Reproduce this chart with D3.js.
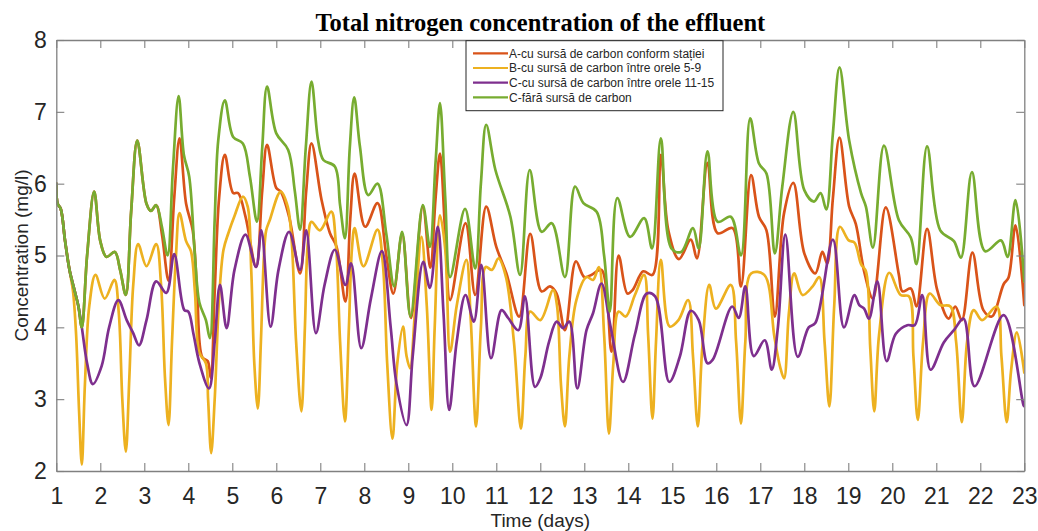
<!DOCTYPE html>
<html>
<head>
<meta charset="utf-8">
<script src="https://cdn.jsdelivr.net/npm/d3@7"></script>
<style>
  body { margin: 0; background: #fff; }
  svg text { font-family: "Liberation Sans", Arial, sans-serif; }
</style>
</head>
<body>
<svg id="chart" width="1038" height="531"></svg>
<script>
// Total nitrogen in the effluent, [day, mg/l] samples per scenario
const seriesLabels = [
  "A-cu sursă de carbon conform stației",
  "B-cu sursă de carbon între orele 5-9",
  "C-cu sursă de carbon între orele 11-15",
  "C-fără sursă de carbon"
];

const seriesA = [
  [1.0,6.0],[1.03,5.72],[1.1,5.65],[1.2,5.2],[1.3,4.8],[1.4,4.55],[1.5,4.3],[1.58,4.0],
  [1.7,5.0],[1.86,5.89],[2.0,5.2],[2.14,4.98],[2.33,5.05],[2.45,4.8],[2.58,4.45],[2.7,5.6],
  [2.84,6.6],[3.05,5.72],[3.15,5.62],[3.27,5.7],[3.4,5.3],[3.55,4.65],[3.68,5.8],[3.8,6.63],
  [3.95,5.72],[4.1,5.35],[4.2,4.5],[4.32,3.58],[4.44,3.53],[4.51,3.3],[4.6,4.5],[4.7,5.8],
  [4.83,6.4],[5.02,5.87],[5.13,5.87],[5.3,5.54],[5.54,4.84],[5.68,5.9],[5.79,6.54],[6.0,5.94],
  [6.1,5.89],[6.29,5.54],[6.54,4.75],[6.68,5.9],[6.8,6.56],[7.03,5.77],[7.22,5.31],[7.37,5.12],
  [7.57,4.36],[7.68,5.5],[7.78,6.14],[8.02,5.4],[8.3,5.73],[8.5,5.0],[8.66,4.47],[8.86,5.3],
  [9.06,4.13],[9.33,5.68],[9.5,4.83],[9.62,5.8],[9.72,6.42],[9.84,5.3],[9.95,4.38],[10.3,5.45],
  [10.52,4.45],[10.77,5.68],[11.0,5.12],[11.23,4.75],[11.52,4.15],[11.77,5.3],[12.03,4.5],
  [12.22,4.57],[12.37,4.47],[12.56,3.96],[12.81,4.92],[13.0,4.7],[13.16,4.73],[13.39,4.8],
  [13.62,3.66],[13.78,5.0],[13.98,4.47],[14.1,4.52],[14.34,4.78],[14.55,4.73],[14.74,6.4],
  [14.91,5.35],[15.15,4.95],[15.42,5.22],[15.56,4.96],[15.8,6.29],[16.03,5.31],[16.37,5.38],
  [16.56,4.57],[16.79,6.12],[16.97,5.54],[17.14,5.35],[17.33,4.15],[17.54,5.59],[17.75,6.01],
  [18.0,5.03],[18.25,4.75],[18.41,5.05],[18.52,4.89],[18.65,5.8],[18.8,6.64],[19.02,5.68],
  [19.17,5.44],[19.36,4.78],[19.56,4.4],[19.85,5.67],[20.15,4.73],[20.23,4.5],[20.42,4.54],
  [20.55,4.29],[20.79,5.37],[21.02,4.52],[21.28,4.12],[21.43,4.29],[21.58,4.1],[21.82,5.04],
  [22.07,4.24],[22.26,4.15],[22.53,4.6],[22.64,4.69],[22.8,5.42],[23.0,4.31]
];

const seriesB = [
  [1.0,6.0],[1.03,5.72],[1.1,5.65],[1.2,5.2],[1.3,4.8],[1.38,4.5],[1.45,3.9],[1.52,2.8],
  [1.58,2.09],[1.65,3.2],[1.75,4.3],[1.89,4.73],[2.1,4.4],[2.32,4.66],[2.42,4.2],[2.5,3.0],
  [2.58,2.27],[2.66,3.3],[2.75,4.6],[2.86,5.16],[3.05,4.85],[3.27,5.16],[3.38,4.6],[3.47,3.3],
  [3.55,2.64],[3.63,3.8],[3.72,5.0],[3.8,5.59],[3.95,5.2],[4.06,5.06],[4.15,4.5],[4.25,3.65],
  [4.4,3.5],[4.45,3.0],[4.52,2.25],[4.6,3.0],[4.7,4.4],[4.8,5.08],[4.91,5.31],[5.05,5.55],
  [5.24,5.82],[5.35,5.68],[5.43,4.8],[5.5,3.5],[5.58,2.87],[5.65,3.8],[5.72,5.0],[5.77,5.35],
  [5.85,5.49],[6.1,5.89],[6.26,5.68],[6.35,5.2],[6.45,3.8],[6.57,2.83],[6.65,4.0],[6.72,5.2],
  [6.8,5.47],[6.99,5.35],[7.25,5.61],[7.35,5.2],[7.45,3.8],[7.56,2.69],[7.65,4.0],[7.72,5.1],
  [7.78,5.38],[7.98,4.85],[8.3,5.36],[8.42,4.9],[8.52,3.5],[8.64,2.45],[8.75,3.5],[8.88,4.01],
  [8.96,3.6],[9.04,3.43],[9.15,4.2],[9.3,5.26],[9.42,4.3],[9.53,2.85],[9.6,4.0],[9.72,5.56],
  [9.84,5.08],[9.95,3.66],[10.1,4.3],[10.32,4.94],[10.42,4.1],[10.54,2.62],[10.65,4.0],
  [10.76,4.84],[10.9,4.8],[11.05,4.96],[11.22,4.7],[11.4,3.8],[11.56,2.59],[11.66,3.6],
  [11.77,4.22],[12.0,4.1],[12.29,4.52],[12.38,4.3],[12.47,3.2],[12.56,2.62],[12.66,3.6],
  [12.82,4.38],[13.05,4.7],[13.2,4.66],[13.33,4.84],[13.45,3.9],[13.56,2.52],[13.66,3.5],
  [13.78,4.22],[13.94,4.15],[14.15,4.45],[14.36,4.73],[14.45,3.9],[14.55,2.73],[14.63,3.8],
  [14.74,4.94],[14.94,4.01],[15.14,4.1],[15.36,4.38],[15.47,3.6],[15.58,2.62],[15.68,3.7],
  [15.84,4.59],[15.99,4.26],[16.33,4.59],[16.45,3.8],[16.56,2.66],[16.66,3.8],[16.79,4.75],
  [17.09,4.73],[17.32,3.87],[17.45,3.45],[17.54,3.29],[17.65,4.2],[17.77,4.75],[17.96,4.45],
  [18.19,4.57],[18.34,4.7],[18.46,3.8],[18.57,2.9],[18.68,4.3],[18.81,5.4],[19.01,5.21],
  [19.14,5.18],[19.29,4.88],[19.4,4.78],[19.5,3.7],[19.59,2.83],[19.7,3.9],[19.93,4.76],
  [20.19,4.45],[20.38,4.43],[20.48,3.6],[20.58,2.71],[20.7,3.8],[20.85,4.47],[21.09,4.31],
  [21.32,4.29],[21.45,3.8],[21.58,2.68],[21.7,3.8],[21.85,4.24],[22.04,4.1],[22.37,4.29],
  [22.48,3.6],[22.6,2.68],[22.7,3.4],[22.83,3.93],[23.0,3.37]
];

const seriesC = [
  [1.0,6.0],[1.03,5.72],[1.1,5.65],[1.2,5.2],[1.3,4.8],[1.4,4.55],[1.5,4.3],[1.58,4.0],
  [1.7,3.5],[1.83,3.21],[2.03,3.46],[2.2,4.0],[2.41,4.38],[2.6,4.1],[2.74,3.93],[2.88,3.75],
  [3.05,4.1],[3.27,4.64],[3.5,4.48],[3.68,5.02],[3.91,4.24],[4.0,4.22],[4.12,3.9],[4.25,3.51],
  [4.47,3.15],[4.6,3.8],[4.72,4.59],[4.87,3.99],[5.05,4.8],[5.3,5.29],[5.54,4.84],[5.66,5.35],
  [5.87,4.01],[6.05,4.8],[6.29,5.33],[6.54,4.8],[6.68,5.35],[6.9,3.92],[7.1,4.6],[7.33,5.08],
  [7.57,4.59],[7.7,4.89],[7.93,3.71],[8.15,4.4],[8.4,5.06],[8.6,4.0],[8.73,3.22],[8.96,2.64],
  [9.1,3.6],[9.34,4.91],[9.49,4.55],[9.67,5.4],[9.8,4.2],[9.93,2.85],[10.1,3.8],[10.3,4.45],
  [10.49,4.08],[10.66,4.87],[10.88,3.57],[11.12,4.24],[11.27,4.13],[11.5,3.96],[11.65,4.43],
  [11.88,3.17],[12.0,3.29],[12.2,3.8],[12.37,4.08],[12.52,3.99],[12.66,4.08],[12.84,3.15],
  [13.05,3.96],[13.2,4.2],[13.39,4.61],[13.6,4.0],[13.88,3.24],[14.15,3.9],[14.42,4.47],
  [14.61,4.43],[14.93,3.24],[15.17,3.59],[15.42,4.23],[15.6,4.1],[15.8,3.5],[15.92,3.55],
  [16.36,4.29],[16.51,4.13],[16.66,4.57],[16.85,3.6],[17.1,3.82],[17.26,3.41],[17.4,4.0],
  [17.57,5.29],[17.85,3.59],[18.1,4.0],[18.25,4.06],[18.65,5.22],[18.9,4.0],[19.14,4.45],
  [19.25,4.31],[19.36,4.26],[19.47,4.12],[19.66,4.64],[19.87,3.53],[20.08,3.91],[20.34,4.03],
  [20.51,4.03],[20.68,4.45],[20.87,3.41],[21.17,3.79],[21.4,3.96],[21.62,4.12],[21.87,3.18],
  [22.53,4.17],[22.98,2.92],[23.0,2.9]
];

const seriesD = [
  [1.0,6.0],[1.03,5.72],[1.1,5.65],[1.2,5.2],[1.3,4.8],[1.4,4.55],[1.5,4.3],[1.58,4.0],
  [1.7,5.0],[1.86,5.89],[2.0,5.2],[2.14,4.98],[2.33,5.05],[2.45,4.8],[2.58,4.45],[2.7,5.6],
  [2.84,6.6],[3.05,5.72],[3.15,5.62],[3.27,5.7],[3.4,5.4],[3.53,5.0],[3.65,6.2],[3.78,7.22],
  [3.9,6.4],[4.02,6.1],[4.15,5.0],[4.25,4.35],[4.4,4.1],[4.49,3.85],[4.6,5.5],[4.68,6.6],
  [4.83,7.16],[5.02,6.65],[5.24,6.56],[5.4,6.1],[5.56,5.47],[5.68,6.5],[5.79,7.35],[6.0,6.7],
  [6.27,6.47],[6.42,5.9],[6.54,5.36],[6.67,6.5],[6.8,7.42],[6.95,6.6],[7.07,6.33],[7.33,6.24],
  [7.45,5.7],[7.56,5.24],[7.67,6.5],[7.77,7.2],[7.9,6.52],[8.09,5.84],[8.3,6.0],[8.5,5.3],
  [8.68,4.57],[8.86,5.33],[9.05,4.15],[9.33,5.7],[9.49,5.12],[9.62,6.3],[9.72,7.12],[9.84,5.8],
  [9.95,4.7],[10.29,5.65],[10.52,4.82],[10.65,6.0],[10.77,6.82],[10.98,6.19],[11.32,5.54],
  [11.54,4.73],[11.76,6.19],[12.03,5.33],[12.26,5.45],[12.56,4.7],[12.79,5.96],[12.98,5.73],
  [13.28,5.61],[13.45,5.0],[13.58,4.22],[13.75,5.8],[14.04,5.26],[14.36,5.52],[14.54,5.1],
  [14.74,6.63],[14.98,5.1],[15.2,5.05],[15.47,5.38],[15.6,5.1],[15.8,6.45],[16.03,5.47],
  [16.33,5.54],[16.56,5.0],[16.77,6.91],[16.97,6.28],[17.14,6.14],[17.33,5.03],[17.5,5.96],
  [17.75,7.0],[18.0,5.91],[18.22,5.75],[18.37,5.87],[18.5,5.64],[18.65,6.7],[18.8,7.62],
  [19.02,6.6],[19.29,5.87],[19.4,5.68],[19.56,5.11],[19.81,6.53],[20.15,5.49],[20.42,5.25],
  [20.55,4.88],[20.79,6.52],[21.09,5.35],[21.4,5.2],[21.56,4.97],[21.81,6.16],[22.11,5.06],
  [22.47,5.21],[22.62,4.98],[22.8,5.77],[23.0,4.64]
];

const seriesColors = ["#D95319", "#EDB120", "#7E2F8E", "#77AC30"];
const xTickValues = d3.range(1, 24);
const yTickValues = [2, 3, 4, 5, 6, 7, 8];

const svg = d3.select("#chart");
const W = 1038, H = 531;
const plot = { left: 56.3, right: 1024.3, top: 40, bottom: 471 };

const x = d3.scaleLinear().domain([1, 23]).range([plot.left, plot.right]);
const y = d3.scaleLinear().domain([2, 8]).range([plot.bottom, plot.top]);

svg.append("rect").attr("width", W).attr("height", H).attr("fill", "#fff");

svg.append("defs").append("clipPath").attr("id", "plot-clip")
  .append("rect")
  .attr("x", plot.left).attr("y", plot.top)
  .attr("width", plot.right - plot.left).attr("height", plot.bottom - plot.top);

// Data curves (green drawn last, on top)
const line = d3.line()
  .x(d => x(d[0]))
  .y(d => y(d[1]))
  .curve(d3.curveCatmullRom.alpha(0.5));

const allSeries = [seriesA, seriesB, seriesC, seriesD];
svg.append("g")
  .attr("clip-path", "url(#plot-clip)")
  .selectAll("path")
  .data(allSeries)
  .join("path")
  .attr("d", line)
  .attr("fill", "none")
  .attr("stroke", (d, i) => seriesColors[i])
  .attr("stroke-width", 2.7)
  .attr("stroke-linejoin", "round")
  .attr("stroke-linecap", "round");

// Axes with inward ticks on all four sides
const axisColor = "#808080";
const textColor = "#262626";
const tickLen = 8;

const bottomAxis = svg.append("g")
  .attr("transform", `translate(0,${plot.bottom})`)
  .call(d3.axisBottom(x).tickValues(xTickValues).tickSizeInner(-tickLen).tickSizeOuter(0).tickPadding(16.5).tickFormat(d3.format("d")));
const topAxis = svg.append("g")
  .attr("transform", `translate(0,${plot.top})`)
  .call(d3.axisTop(x).tickValues(xTickValues).tickSizeInner(-tickLen).tickSizeOuter(0).tickFormat(""));
const leftAxis = svg.append("g")
  .attr("transform", `translate(${plot.left},0)`)
  .call(d3.axisLeft(y).tickValues(yTickValues).tickSizeInner(-tickLen).tickSizeOuter(0).tickPadding(9.5).tickFormat(d3.format("d")));
const rightAxis = svg.append("g")
  .attr("transform", `translate(${plot.right},0)`)
  .call(d3.axisRight(y).tickValues(yTickValues).tickSizeInner(-tickLen).tickSizeOuter(0).tickFormat(""));

[bottomAxis, topAxis, leftAxis, rightAxis].forEach(g => {
  g.select(".domain").attr("stroke", axisColor).attr("stroke-width", 1.3);
  g.selectAll(".tick line").attr("stroke", axisColor).attr("stroke-width", 1.1);
  g.selectAll(".tick text")
    .attr("fill", textColor)
    .style("font-size", "23px")
    .style("font-family", '"Liberation Sans", Arial, sans-serif');
});

// Axis titles
svg.append("text")
  .attr("x", x(12))
  .attr("y", 527)
  .attr("text-anchor", "middle")
  .attr("fill", textColor)
  .style("font-size", "19px")
  .text("Time (days)");

svg.append("text")
  .attr("transform", `translate(28,${(plot.top + plot.bottom) / 2}) rotate(-90)`)
  .attr("text-anchor", "middle")
  .attr("fill", textColor)
  .style("font-size", "19px")
  .text("Concentration (mg/l)");

// Chart title
svg.append("text")
  .attr("x", x(12))
  .attr("y", 31)
  .attr("text-anchor", "middle")
  .attr("fill", "#000")
  .style("font-family", '"Liberation Serif", "Times New Roman", serif')
  .style("font-weight", "bold")
  .style("font-size", "24.5px")
  .text("Total nitrogen concentration of the effluent");

// Legend
const legend = svg.append("g");
legend.append("rect")
  .attr("x", 466).attr("y", 40.7)
  .attr("width", 257).attr("height", 70)
  .attr("fill", "#fff")
  .attr("stroke", "#262626")
  .attr("stroke-width", 1);

const rowY = [53.3, 68, 82.7, 97.4];
seriesLabels.forEach((label, i) => {
  legend.append("line")
    .attr("x1", 473).attr("x2", 508)
    .attr("y1", rowY[i]).attr("y2", rowY[i])
    .attr("stroke", seriesColors[i])
    .attr("stroke-width", 2.2);
  legend.append("text")
    .attr("x", 509)
    .attr("y", rowY[i])
    .attr("dy", "0.35em")
    .attr("fill", textColor)
    .style("font-size", "12px")
    .text(label);
});
</script>
</body>
</html>
